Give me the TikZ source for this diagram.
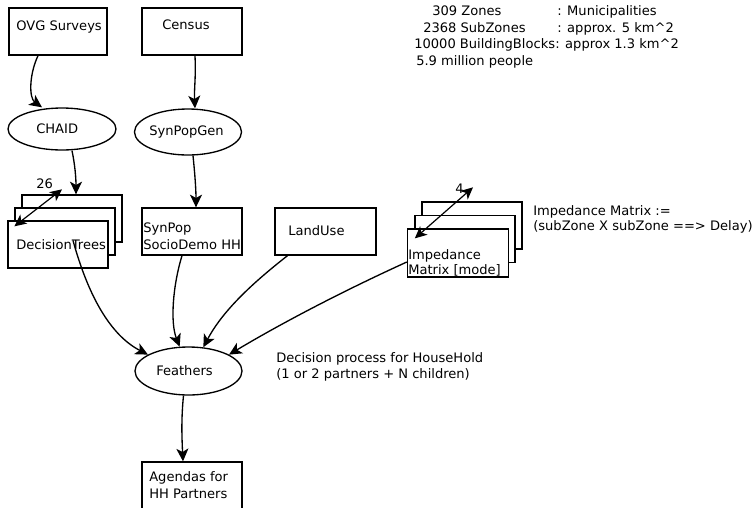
\documentclass[tikz,border=0pt]{standalone}
\usepackage{fontspec}
\setmainfont{DejaVu Sans}
\usetikzlibrary{shapes.geometric,arrows.meta,calc}
\begin{document}
\begin{tikzpicture}[x=0.75pt,y=-0.75pt,
  boxnode/.style={draw,line width=1pt,fill=white,minimum width=75pt,minimum height=35.25pt,inner sep=0pt},
  ellnode/.style={draw,ellipse,line width=1pt,fill=white,inner sep=0pt},
  txt/.style={anchor=base west,inner sep=0pt,font=\fontsize{9.8pt}{12pt}\selectfont},
  conn/.style={line width=1pt,-{Stealth[length=9.5pt,width=9pt,inset=2.5pt]}},
  dconn/.style={line width=0.9pt,{Stealth[length=9pt,width=8.5pt,inset=2.5pt]}-{Stealth[length=9pt,width=8.5pt,inset=2.5pt]}}]
\useasboundingbox (0,0) rectangle (756,507);

% boxes
\node[boxnode,minimum width=73.5pt] (ovg) at (58,31.5) {};
\node[boxnode] (census) at (192,31.5) {};
\node[boxnode] (dt3) at (72,218.5) {};
\node[boxnode] (dt2) at (65,231.5) {};
\node[boxnode] (dt1) at (58,244.5) {};
\node[boxnode] (synpop) at (192,231.5) {};
\node[boxnode,minimum width=75.75pt] (landuse) at (325.5,231.5) {};
\node[boxnode] (imp3) at (472,225.5) {};
\node[boxnode] (imp2) at (465,239) {};
\node[boxnode,minimum width=75.75pt,minimum height=36pt] (imp1) at (458,253) {};
\node[boxnode] (agendas) at (192,485.5) {};

% ellipses
\node[ellnode,minimum width=81pt,minimum height=31.5pt] (chaid) at (62,129) {};
\node[ellnode,minimum width=80.25pt,minimum height=34.5pt] (synpopgen) at (188,132) {};
\node[ellnode,minimum width=80.25pt,minimum height=36pt] (feathers) at (188.5,371) {};

% texts
\node[txt] (tovg) at (16,30) {OVG Surveys};
\node[txt] (tcensus) at (162,29) {Census};
\node[txt] (tchaid) at (36,133) {CHAID};
\node[txt] (tspg) at (149,135) {SynPopGen};
\node[txt] (t26) at (36,188) {26};
\node[txt] (tdt) at (16,249) {DecisionTrees};
\node[txt] (tsp1) at (143,232) {SynPop};
\node[txt] (tsp2) at (143,249) {SocioDemo HH};
\node[txt] (tlu) at (288,235) {LandUse};
\node[txt] (t4) at (455,193) {4};
\node[txt] (timp1) at (408,259) {Impedance};
\node[txt] (timp2) at (408,274) {Matrix [mode]};
\node[txt] (tim1) at (533,215) {Impedance Matrix :=};
\node[txt] (tim2) at (533,230) {(subZone X subZone ==> Delay)};
\node[txt] (tfe) at (156,375) {Feathers};
\node[txt] (tdp1) at (276,362) {Decision process for HouseHold};
\node[txt] (tdp2) at (276,378) {(1 or 2 partners + N children)};
\node[txt] (tag1) at (149,481) {Agendas for};
\node[txt] (tag2) at (149,498) {HH Partners};

\node[txt] (z1a) at (432,15) {309 Zones};
\node[txt] (z1b) at (557,15) {: Municipalities};
\node[txt] (z2a) at (423,32) {2368 SubZones};
\node[txt] (z2b) at (557,32) {: approx. 5 km\textasciicircum 2};
\node[txt] (z3a) at (414,48) {10000 BuildingBlocks};
\node[txt] (z3b) at (555,48) {: approx 1.3 km\textasciicircum 2};
\node[txt] (z4a) at (416,65) {5.9 million people};

% connectors
\draw[conn] ($(ovg.south)+(-20,0)$) .. controls (29,75) and (29,98) .. ($(chaid.north)+(-20,0)$);
\draw[conn] ($(census.south)+(3,0)$) .. controls (196,78) and (194,90) .. ($(synpopgen.north)+(7,0)$);
\draw[conn] ($(chaid.south)+(10,0)$) .. controls (75,165) and (76,178) .. ($(dt3.north)+(4,0)$);
\draw[conn] ($(synpopgen.south)+(5,0)$) .. controls (195,175) and (196,190) .. ($(synpop.north)+(4,0)$);
\draw[dconn] ($(dt1.north west)+(7,6)$) -- ($(dt3.north)+(-10,-5)$);
\draw[dconn] ($(imp1.north west)+(8,10)$) -- ($(imp3.north)+(1,-14)$);
\draw[conn] ($(dt1.center)+(15,-4)$) .. controls (88,295) and (110,335) .. (feathers.158);
\draw[conn] ($(synpop.south)+(-10,0)$) .. controls (173,285) and (170,322) .. (feathers.110);
\draw[conn] ($(landuse.south)+(-38,0)$) .. controls (250,285) and (222,312) .. (feathers.58);
\draw[conn] ($(imp1.west)+(0,9)$) .. controls (330,297) and (270,330) .. (feathers.22);
\draw[conn] ($(feathers.south)+(-5,0)$) .. controls (181,420) and (182,440) .. ($(agendas.north)+(-9,0)$);
\end{tikzpicture}
\end{document}
